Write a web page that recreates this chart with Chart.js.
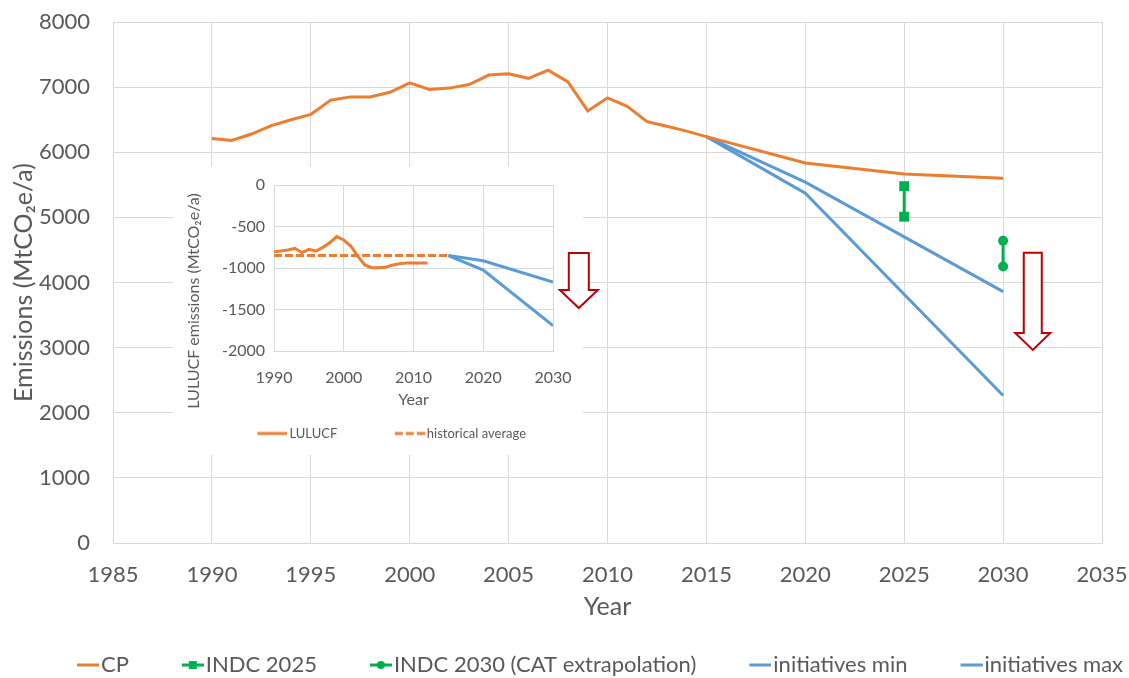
<!DOCTYPE html>
<html>
<head>
<meta charset="utf-8">
<script src="https://cdn.jsdelivr.net/npm/chart.js@4.4.0/dist/chart.umd.min.js"></script>
<style>
  body { margin: 0; background: #fff; }
  #wrap { position: relative; width: 1129px; height: 678px; }
  #inset { position: absolute; left: 173px; top: 167px; }
</style>
</head>
<body>
<div id="wrap">
  <canvas id="mainChart" width="1129" height="678"></canvas>
  <canvas id="inset" width="432" height="288"></canvas>
</div>
<script>
// ---- main chart data ----
const cpYears = [1990,1991,1992,1993,1994,1995,1996,1997,1998,1999,2000,2001,2002,2003,2004,2005,2006,2007,2008,2009,2010,2011,2012,2013,2014,2015,2020,2025,2030];
const cpValues = [6210,6180,6280,6410,6500,6580,6800,6850,6850,6920,7065,6965,6985,7040,7185,7205,7135,7260,7080,6635,6835,6705,6470,6400,6325,6240,5835,5665,5600];
const indc2025Years = [2025, 2025];
const indc2025Values = [5480, 5010];
const indc2030Years = [2030, 2030];
const indc2030Values = [4640, 4245];
const initYears = [2015, 2020, 2030];
const initMinValues = [6240, 5540, 3860];
const initMaxValues = [6240, 5370, 2265];

// ---- inset (LULUCF) data ----
const lulucfYears = [1990,1991,1992,1993,1994,1995,1996,1997,1998,1999,2000,2001,2002,2003,2004,2005,2006,2007,2008,2009,2010,2011,2012];
const lulucfValues = [-803,-795,-783,-763,-815,-775,-795,-751,-695,-622,-663,-735,-855,-964,-996,-996,-992,-964,-948,-940,-940,-940,-940];
const histAvgYears = [1990, 2015];
const histAvgValues = [-850, -850];
const insetMinValues = [-850, -912, -1170];
const insetMaxValues = [-850, -1025, -1695];

const ORANGE = '#ED7D31', GREEN = '#00B050', BLUE = '#5B9BD5', GRID = '#D9D9D9', TEXT = '#595959';
const NONE = 'rgba(0,0,0,0)';
Chart.defaults.font.family = 'Lato';
Chart.defaults.color = TEXT;

const pts = (xs, ys) => xs.map((x, i) => ({ x: x, y: ys[i] }));

// little legend swatch: a short line (optionally dashed) with a marker, sitting at the right end
function swatch(color, marker, w, len, dash) {
  const c = document.createElement('canvas');
  c.width = w; c.height = 14;
  const g = c.getContext('2d');
  g.strokeStyle = color; g.fillStyle = color; g.lineWidth = 3;
  if (dash) g.setLineDash(dash);
  g.beginPath(); g.moveTo(w - len, 7); g.lineTo(w, 7); g.stroke();
  const mx = w - len / 2;
  if (marker === 'rect') g.fillRect(mx - 4, 3, 8, 8);
  if (marker === 'circle') { g.beginPath(); g.arc(mx, 7, 4, 0, Math.PI * 2); g.fill(); }
  return c;
}

// hollow red "down" arrow, anchored in data coordinates
const downArrow = {
  id: 'downArrow',
  afterDraw(chart, args, opts) {
    if (!opts.x) return;
    const { ctx, scales } = chart;
    const cx = scales.x.getPixelForValue(opts.x);
    const top = scales.y.getPixelForValue(opts.top);
    const tip = scales.y.getPixelForValue(opts.tip);
    const s = opts.shaft / 2, h = opts.head / 2, neck = tip - opts.headLen;
    ctx.save();
    ctx.beginPath();
    ctx.moveTo(cx - s, top); ctx.lineTo(cx + s, top); ctx.lineTo(cx + s, neck);
    ctx.lineTo(cx + h, neck); ctx.lineTo(cx, tip); ctx.lineTo(cx - h, neck);
    ctx.lineTo(cx - s, neck); ctx.closePath();
    ctx.fillStyle = '#fff'; ctx.fill();
    ctx.lineWidth = 2; ctx.strokeStyle = '#C00000'; ctx.stroke();
    ctx.restore();
  }
};

// move the legend sideways (Excel does not centre it on the canvas)
const legendShift = {
  id: 'legendShift',
  afterLayout(chart, args, opts) {
    const lg = chart.legend;
    if (lg && opts.dx) { lg.left += opts.dx; lg.right += opts.dx; }
  }
};

function legendWithSwatches(swatches) {
  return chart => Chart.defaults.plugins.legend.labels.generateLabels(chart)
    .filter(item => swatches[item.datasetIndex])
    .map(item => { item.pointStyle = swatches[item.datasetIndex]; return item; });
}

// ---------------- main chart ----------------
const mainSwatches = [
  swatch(ORANGE, null, 78, 22),
  swatch(GREEN, 'rect', 78, 22),
  swatch(GREEN, 'circle', 78, 22),
  swatch(BLUE, null, 78, 22),
  swatch(BLUE, null, 78, 22)
];

// label gaps are made with invisible tick marks so they do not shrink the plot area
new Chart(document.getElementById('mainChart'), {
  type: 'line',
  data: {
    datasets: [
      { label: 'CP', data: pts(cpYears, cpValues), borderColor: ORANGE, borderWidth: 3, pointRadius: 0 },
      { label: 'INDC 2025', data: pts(indc2025Years, indc2025Values), borderColor: GREEN, borderWidth: 3,
        pointStyle: 'rect', pointRadius: 7, pointBackgroundColor: GREEN, pointBorderWidth: 0 },
      { label: 'INDC 2030 (CAT extrapolation)', data: pts(indc2030Years, indc2030Values), borderColor: GREEN, borderWidth: 3,
        pointStyle: 'circle', pointRadius: 5, pointBackgroundColor: GREEN, pointBorderWidth: 0 },
      { label: 'initiatives min', data: pts(initYears, initMinValues), borderColor: BLUE, borderWidth: 3, pointRadius: 0 },
      { label: 'initiatives max', data: pts(initYears, initMaxValues), borderColor: BLUE, borderWidth: 3, pointRadius: 0 }
    ]
  },
  options: {
    responsive: false,
    animation: false,
    layout: { padding: { top: 22, left: 0, right: 0, bottom: 0 } },
    scales: {
      x: {
        type: 'linear', min: 1985, max: 2035,
        ticks: { stepSize: 5, padding: 0, font: { size: 22 }, callback: v => String(v) },
        grid: { color: GRID, drawTicks: true, tickLength: 19, tickColor: NONE },
        border: { color: GRID },
        title: { display: true, text: 'Year', font: { size: 25 }, padding: { top: 0, bottom: 26 } },
        afterFit: s => { s.height = 105; }
      },
      y: {
        min: 0, max: 8000,
        ticks: { stepSize: 1000, padding: 0, font: { size: 22 }, callback: v => String(v) },
        grid: { color: GRID, drawTicks: true, tickLength: 23, tickColor: NONE },
        border: { color: GRID },
        title: { display: true, text: 'Emissions (MtCO\u2082e/a)', font: { size: 25 }, padding: { top: 9, bottom: 0 } },
        afterFit: s => { s.width = 113; }
      },
      spacer: {
        type: 'linear', position: 'right',
        grid: { display: false }, border: { display: false }, ticks: { display: false },
        afterFit: s => { s.width = 27; }
      }
    },
    plugins: {
      legend: {
        position: 'bottom',
        maxHeight: 30,
        labels: {
          usePointStyle: true, pointStyleWidth: 60, padding: 6,
          font: { size: 22 }, color: TEXT,
          generateLabels: legendWithSwatches(mainSwatches)
        }
      },
      tooltip: { enabled: false },
      legendShift: { dx: 12 },
      downArrow: { x: 2031.5, top: 4455, tip: 2965, shaft: 18, head: 35, headLen: 17 }
    }
  },
  plugins: [downArrow, legendShift]
});

// ---------------- inset chart ----------------
const insetSwatches = [
  swatch(ORANGE, null, 74, 30),
  swatch(ORANGE, null, 74, 30, [8, 3]),
  null,
  null
];

const insetBox = {
  id: 'insetBox',
  beforeDraw(chart) {
    const ctx = chart.ctx;
    ctx.save(); ctx.fillStyle = '#fff'; ctx.fillRect(0, 0, 410, chart.height); ctx.restore();
  },
  afterDraw(chart) {
    // rotated y title, centred on the whole inset like Excel does
    const ctx = chart.ctx;
    ctx.save();
    ctx.translate(21, 134);
    ctx.rotate(-Math.PI / 2);
    ctx.font = '16px Lato';
    ctx.fillStyle = TEXT;
    ctx.textAlign = 'center';
    ctx.textBaseline = 'middle';
    ctx.fillText('LULUCF emissions (MtCO\u2082e/a)', 0, 0);
    ctx.restore();
  }
};

new Chart(document.getElementById('inset'), {
  type: 'line',
  data: {
    datasets: [
      { label: 'LULUCF', data: pts(lulucfYears, lulucfValues), borderColor: ORANGE, borderWidth: 3, pointRadius: 0 },
      { label: 'historical average', data: pts(histAvgYears, histAvgValues), borderColor: ORANGE, borderWidth: 3,
        borderDash: [8, 3], pointRadius: 0 },
      { label: 'initiatives min', data: pts(initYears, insetMinValues), borderColor: BLUE, borderWidth: 3, pointRadius: 0 },
      { label: 'initiatives max', data: pts(initYears, insetMaxValues), borderColor: BLUE, borderWidth: 3, pointRadius: 0 }
    ]
  },
  options: {
    responsive: false,
    animation: false,
    layout: { padding: { top: 18, left: 0, right: 0, bottom: 5 } },
    scales: {
      x: {
        type: 'linear', min: 1990, max: 2030,
        ticks: { stepSize: 10, padding: 0, font: { size: 16 }, callback: v => String(v) },
        grid: { color: GRID, drawTicks: true, tickLength: 17, tickColor: NONE },
        border: { color: GRID },
        title: { display: true, text: 'Year', font: { size: 16 }, padding: 0 },
        afterFit: s => { s.height = 58; }
      },
      y: {
        min: -2000, max: 0,
        ticks: { stepSize: 500, padding: 0, font: { size: 16 }, callback: v => String(v) },
        grid: { color: GRID, drawTicks: true, tickLength: 9, tickColor: NONE },
        border: { color: GRID },
        afterFit: s => { s.width = 101; }
      },
      spacer: {
        type: 'linear', position: 'right',
        grid: { display: false }, border: { display: false }, ticks: { display: false },
        afterFit: s => { s.width = 52; }
      }
    },
    plugins: {
      legend: {
        position: 'bottom',
        maxHeight: 41,
        labels: {
          usePointStyle: true, pointStyleWidth: 65, padding: 18,
          font: { size: 13 }, color: TEXT,
          generateLabels: legendWithSwatches(insetSwatches)
        }
      },
      tooltip: { enabled: false },
      legendShift: { dx: -17 },
      downArrow: { x: 2033.7, top: -819, tip: -1482, shaft: 20, head: 38, headLen: 18 }
    }
  },
  plugins: [insetBox, downArrow, legendShift]
});
</script>
</body>
</html>
